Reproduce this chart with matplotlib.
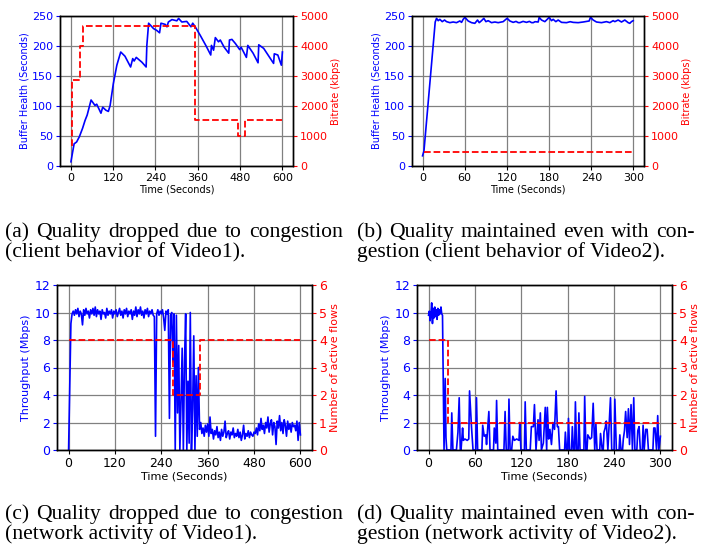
import numpy as np
import matplotlib
matplotlib.use('Agg')
import matplotlib.pyplot as plt

# (a) buffer health / bitrate, Video1
buf_a = [(1, 7), (6, 24), (10, 37), (17, 40), (25, 49), (34, 63), (41, 76), (47, 85),
         (58, 110), (69, 101), (74, 103), (86, 88), (91, 98), (100, 93), (107, 91),
         (112, 101), (121, 137), (131, 168), (142, 190), (154, 183), (170, 165),
         (176, 179), (180, 175), (186, 181), (202, 173), (214, 165), (216, 201),
         (221, 238), (235, 229), (244, 226), (252, 222), (256, 238), (268, 236),
         (273, 232), (277, 240), (287, 244), (301, 242), (306, 246), (315, 240),
         (329, 241), (341, 232), (346, 238), (353, 232), (367, 218), (383, 201),
         (397, 185), (399, 201), (405, 193), (410, 214), (419, 207), (424, 210),
         (435, 198), (448, 188), (450, 210), (457, 211), (467, 204), (479, 194),
         (483, 198), (498, 181), (502, 201), (517, 188), (531, 172), (533, 202),
         (547, 196), (575, 171), (577, 187), (587, 185), (597, 168), (600, 190)]
rate_a_t = [3, 4.5, 26.5, 34, 353, 474, 495, 600]
rate_a = [650, 2870, 4000, 4680, 1520, 1000, 1520, 1520]

# (b) buffer health / bitrate, Video2
buf_b = [(0, 17), (2, 25), (18, 240), (19.9, 246.1), (22.3, 242.2), (24.6, 244.4),
         (28.0, 240.6), (31.3, 243.3), (34.1, 240.6), (38.9, 238.9), (43.6, 240.0),
         (48.3, 238.9), (53.1, 241.7), (55.5, 239.4), (57.8, 244.4), (60.2, 247.8),
         (64.9, 241.7), (69.7, 238.9), (74.4, 237.8), (78.2, 243.3), (80.6, 238.9),
         (83.9, 242.2), (87.2, 246.1), (90.1, 240.6), (93.4, 242.2), (98.1, 238.9),
         (102.9, 240.0), (107.6, 238.9), (114.7, 240.6), (118.5, 244.4), (120.4, 246.1),
         (124.2, 241.7), (128.9, 239.4), (133, 241), (136, 239), (138.4, 238.9),
         (143, 241), (147.9, 239.4), (152, 241), (155, 239), (157.4, 238.9),
         (160, 240.5), (164.5, 240.0), (165.9, 247.8), (169.2, 243.3), (174.0, 240.6),
         (177.3, 244.4), (180.1, 247.8), (183.4, 242.2), (185.8, 244.4), (189.6, 240.6),
         (192.9, 243.3), (197.7, 239.4), (204.8, 238.9), (210, 240.5), (214.2, 239.4),
         (221.4, 238.9), (228.5, 240.0), (237.0, 241.7), (238.9, 247.8), (242.7, 243.3),
         (247.4, 240.0), (254.5, 238.9), (261.6, 240.6), (266.4, 238.9), (271.1, 242.2),
         (273.5, 240.6), (278.2, 243.3), (283.0, 240.0), (287.7, 243.3), (292.5, 238.9),
         (294.8, 237.8), (297.2, 240.6), (299.6, 242.2)]
rate_b_t = [2, 298]
rate_b = [470, 470]

# (c) throughput every 3 s, Video1
tput_c = [0.0, 4.8, 9.2, 9.9, 10.1, 9.8, 10.2, 9.9, 10.3, 9.7,
          10.1, 9.9, 9.1, 10.2, 9.8, 10.3, 9.9, 10.1, 9.6, 10.2,
          9.9, 10.3, 9.8, 10.4, 9.7, 10.2, 9.9, 10.1, 9.5, 10.2,
          9.9, 10.0, 9.6, 10.3, 9.8, 10.1, 9.9, 10.2, 9.6, 10.1,
          9.9, 10.2, 9.7, 10.0, 10.3, 9.8, 10.1, 9.6, 10.2, 9.9,
          10.3, 9.7, 10.1, 9.9, 10.2, 9.5, 10.1, 9.8, 10.4, 9.7,
          10.2, 9.9, 10.4, 9.8, 10.1, 9.6, 10.2, 9.9, 10.3, 9.7,
          10.1, 9.9, 10.2, 9.8, 9.7, 1.0, 9.9, 10.2, 9.8, 10.1,
          9.9, 10.2, 9.6, 8.7, 10.1, 9.9, 10.2, 2.3, 9.8, 10.0,
          6.4, 9.9, 0.0, 9.8, 2.7, 7.6, 0.0, 3.5, 7.4, 0.0,
          6.4, 9.9, 0.0, 5.0, 0.5, 10.0, 0.0, 3.0, 8.3, 0.0,
          5.4, 1.0, 6.0, 1.5, 2.0, 1.2, 1.6, 1.0, 1.8, 1.3,
          1.9, 1.0, 2.4, 1.2, 1.5, 0.8, 1.4, 1.1, 1.7, 0.9,
          1.3, 0.7, 1.5, 1.0, 1.3, 2.1, 0.9, 1.2, 1.4, 0.8,
          1.3, 1.1, 1.6, 0.9, 1.2, 1.0, 1.5, 0.9, 1.3, 0.7,
          1.1, 1.8, 0.8, 1.2, 1.0, 1.4, 0.9, 1.3, 1.1, 1.0,
          1.3, 1.2, 1.6, 1.1, 1.9, 1.4, 2.3, 1.5, 1.8, 1.2,
          2.0, 1.6, 2.4, 1.3, 1.9, 2.2, 1.1, 2.0, 1.7, 0.4,
          2.1, 1.6, 2.5, 1.4, 2.0, 1.2, 2.2, 1.8, 1.0, 2.1,
          1.5, 1.9, 1.3, 2.0, 1.7, 1.8, 1.4, 2.1, 0.7, 2.0,
          1.1]
tput_c_step = 3
flows_c_t = [0, 269, 339, 600]
flows_c = [4, 2, 4, 4]

# (d) throughput, Video2
tput_d = [(0, 9.8), (1, 10.1), (2, 9.4), (3, 9.9), (4, 10.7), (5, 9.2), (6, 10.3),
          (7, 9.6), (8, 10.4), (9, 9.7), (10, 10.2), (11, 9.5), (12, 10.3), (13, 9.8),
          (14, 10.2), (15, 9.9), (16, 10.4), (17, 9.9), (18, 9.8), (19, 5.0), (20, 0.0),
          (21.5, 5.2), (22.5, 0.9), (23.5, 0.0),
          (29, 0.0), (30, 2.7), (31.5, 0.0),
          (36, 0.0), (38, 1.3), (39.6, 3.8), (41, 0.0), (42, 0.0), (44, 1.6), (45, 0.7),
          (47, 0.8), (50, 0.7), (52, 0.8), (53, 4.3), (55.5, 1.7), (57.5, 0.0),
          (61, 0.0), (62, 3.8), (63.5, 0.0),
          (69, 0.0), (70, 1.8), (72, 1.0), (74, 1.1), (75, 0.4), (78, 2.8), (79.5, 0.0),
          (84, 0.0), (85, 1.6), (87, 0.5), (88, 3.6), (89.5, 0.0),
          (97.5, 0.0), (99, 2.8), (100.5, 0.0),
          (103, 0.0), (104, 3.7), (105.5, 0.0),
          (107.5, 0.0), (109, 1.0), (111, 0.7), (114, 0.8), (117, 0.7), (118, 2.0), (119.5, 0.0),
          (124, 0.0), (125, 3.5), (126.5, 0.0),
          (131.5, 0.0), (133, 1.7), (135.6, 1.7), (137, 3.3), (139, 0.0), (141.6, 2.2),
          (143, 0.7), (144.6, 2.7), (146, 0.0), (148.5, 0.5), (151, 3.1), (152.8, 0.0),
          (153.7, 3.1), (155.4, 0.8), (157, 1.5), (159, 0.4), (161, 2.0), (163, 1.5),
          (165, 4.3), (166.6, 1.7), (168, 1.7), (169.6, 0.0),
          (176, 0.0), (177, 1.3), (178.5, 0.0),
          (180, 0.0), (181, 2.3), (182.5, 0.0),
          (185, 0.0), (186, 1.7), (187.5, 0.0),
          (189, 0.0), (190, 3.5), (191.5, 0.0),
          (193.5, 0.0), (194.5, 2.7), (196, 0.0),
          (201, 0.0), (202, 3.9), (203.6, 0.0),
          (205, 0.0), (206, 1.1), (209, 0.8), (211, 0.9), (213, 3.4), (215, 0.0),
          (216.5, 1.9), (218, 0.0),
          (221.5, 0.0), (222.5, 1.2), (224.7, 0.0),
          (226, 0.0), (227, 1.3), (228.5, 1.6), (230, 2.1), (232, 0.0), (233.7, 1.9),
          (235.4, 3.8), (237, 0.0),
          (240, 0.0), (241, 3.7), (243, 0.0),
          (246.5, 0.0), (247.5, 1.1), (249, 0.0),
          (251, 0.0), (252, 0.8), (253.5, 1.4), (255, 2.8), (257, 0.9), (258.6, 3.0),
          (260, 0.4), (262, 3.3), (263.8, 0.0), (265.5, 3.8), (267, 0.0),
          (269.5, 0.0), (270.7, 1.4), (272.4, 1.7), (274, 0.0),
          (276.5, 0.0), (277.6, 1.8), (279, 0.0), (281, 1.5), (282.8, 1.5), (284.5, 0.0),
          (290.3, 0.0), (291.4, 1.6), (293, 1.6), (295, 0.0), (296.5, 2.5), (298, 0.0),
          (300, 1.0)]
flows_d_t = [0, 24.5, 300]
flows_d = [4, 1, 1]

captions = {
    'a': ['(a) Quality dropped due to congestion', '(client behavior of Video1).'],
    'b': ['(b) Quality maintained even with con-', 'gestion (client behavior of Video2).'],
    'c': ['(c) Quality dropped due to congestion', '(network activity of Video1).'],
    'd': ['(d) Quality maintained even with con-', 'gestion (network activity of Video2).'],
}

W, H = 706, 545
fig = plt.figure(figsize=(W / 100, H / 100), dpi=100)


def px_axes(left, top, right, bottom):
    return fig.add_axes([left / W, 1 - bottom / H, (right - left) / W, (bottom - top) / H])


def setup(ax, ax2, xmax, xstep, ylim, ystep, y2lim, y2step, ylab, y2lab, tfs, lfs):
    ax.set_xlim(-0.05 * xmax, 1.05 * xmax)
    ax.set_xticks(np.arange(0, xmax + 1, xstep))
    ax.set_ylim(*ylim)
    ax.set_yticks(np.arange(ylim[0], ylim[1] + 0.1, ystep))
    ax2.set_ylim(*y2lim)
    ax2.set_yticks(np.arange(y2lim[0], y2lim[1] + 0.1, y2step))
    ax.grid(True, color='#808080', lw=0.9)
    ax.set_xlabel('Time (Seconds)', fontsize=lfs, labelpad=1)
    ax.set_ylabel(ylab, color='blue', fontsize=lfs, labelpad=2)
    ax2.set_ylabel(y2lab, color='red', fontsize=lfs, labelpad=2)
    ax.tick_params(axis='x', labelsize=tfs, length=3, pad=2)
    ax.tick_params(axis='y', colors='blue', labelsize=tfs, length=3, pad=2)
    ax2.tick_params(axis='y', colors='red', labelsize=tfs, length=3, pad=2)
    for a in (ax, ax2):
        for s in a.spines.values():
            s.set_color('black')
            s.set_linewidth(1.0)


# panel a
ax = px_axes(60, 16, 293, 166)
ax2 = ax.twinx()
t, v = zip(*buf_a)
ax.plot(t, v, color='blue', lw=1.2)
ax2.step(rate_a_t, rate_a, where='post', color='red', ls='--', lw=1.3)
setup(ax, ax2, 600, 120, (0, 250), 50, (0, 5000), 1000,
      'Buffer Health (Seconds)', 'Bitrate (kbps)', 8, 7)

# panel b
ax = px_axes(412, 16, 644, 166)
ax2 = ax.twinx()
t, v = zip(*buf_b)
ax.plot(t, v, color='blue', lw=1.2)
ax2.plot(rate_b_t, rate_b, color='red', ls='--', lw=1.3)
setup(ax, ax2, 300, 60, (0, 250), 50, (0, 5000), 1000,
      'Buffer Health (Seconds)', 'Bitrate (kbps)', 8, 7)

# panel c
ax = px_axes(57, 285, 312, 450)
ax2 = ax.twinx()
ax.plot(np.arange(len(tput_c)) * tput_c_step, tput_c, color='blue', lw=1.2)
ax2.step(flows_c_t, flows_c, where='post', color='red', ls='--', lw=1.3)
setup(ax, ax2, 600, 120, (0, 12), 2, (0, 6), 1,
      'Throughput (Mbps)', 'Number of active flows', 9, 8)

# panel d
ax = px_axes(417, 285, 672, 450)
ax2 = ax.twinx()
t, v = zip(*tput_d)
ax.plot(t, v, color='blue', lw=1.2)
ax2.step(flows_d_t, flows_d, where='post', color='red', ls='--', lw=1.3)
setup(ax, ax2, 300, 60, (0, 12), 2, (0, 6), 1,
      'Throughput (Mbps)', 'Number of active flows', 9, 8)

# captions: first line justified like the paper, second line left aligned
renderer = fig.canvas.get_renderer()
cap_fs = 15.6
just_w = 338
cap_pos = {'a': (5, 237), 'b': (357, 237), 'c': (5, 519), 'd': (357, 519)}
for key, (x, y) in cap_pos.items():
    first, second = captions[key]
    words = [fig.text(0, 1 - y / H, w, fontsize=cap_fs, family='Liberation Serif',
                      va='baseline', ha='left') for w in first.split()]
    widths = [w.get_window_extent(renderer).width for w in words]
    gap = (just_w - sum(widths)) / (len(words) - 1)
    xx = x
    for w, wd in zip(words, widths):
        w.set_x(xx / W)
        xx += wd + gap
    fig.text(x / W, 1 - (y + 20) / H, second, fontsize=cap_fs,
             family='Liberation Serif', va='baseline', ha='left')

fig.savefig('out.png', dpi=100)
